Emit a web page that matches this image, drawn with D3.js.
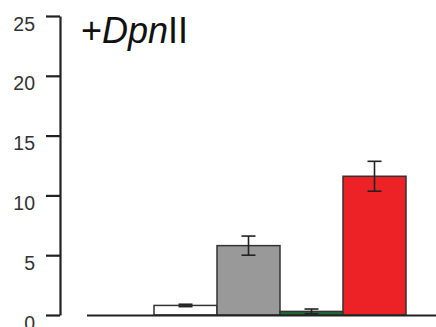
<!DOCTYPE html>
<html><head><meta charset="utf-8">
<script src="https://cdn.jsdelivr.net/npm/d3@7"></script>
<style>body{margin:0;background:#fff}svg{display:block}</style>
</head><body>
<svg id="c" width="436" height="327"></svg>
<script>
const categories = ["A","B","C","D"];
const values = [0.8, 5.8, 0.3, 11.6];
const errors = [0.1, 0.8, 0.2, 1.25];
const colors = ["#ffffff","#999999","#1e6b34","#ec2227"];
const yTicks = [0,5,10,15,20,25];

const svg = d3.select("#c");
const y = d3.scaleLinear().domain([0,25]).range([315,16]);
const x = d3.scaleBand().domain(categories).range([154,406]).padding(0);

// y axis
const ax = svg.append("g").attr("transform","translate(60,0)")
  .call(d3.axisLeft(y).tickValues(yTicks).tickSize(14).tickSizeOuter(0).tickPadding(11));
ax.select(".domain").attr("stroke","#222").attr("stroke-width",2.2);
ax.selectAll(".tick line").attr("stroke","#222").attr("stroke-width",2.2);
ax.selectAll(".tick text").attr("fill","#333").attr("dy","0.72em")
  .attr("font-family","Liberation Sans, Arial, sans-serif").attr("font-size",19.5);

// bars
svg.append("g").selectAll("rect").data(categories).join("rect")
  .attr("x", d=>x(d)).attr("width", x.bandwidth())
  .attr("y", (d,i)=>y(values[i])).attr("height",(d,i)=>y(0)-y(values[i]))
  .attr("fill",(d,i)=>colors[i]).attr("stroke","#333").attr("stroke-width",1.5);

// baseline
svg.append("line").attr("x1",87).attr("x2",436).attr("y1",y(0)+0.5).attr("y2",y(0)+0.5)
  .attr("stroke","#222").attr("stroke-width",2.2);

// error bars
const eg = svg.append("g").attr("stroke","#222").attr("stroke-width",1.6);
categories.forEach((d,i)=>{
  const cx = x(d)+x.bandwidth()/2;
  const t = y(values[i]+errors[i]), b = y(values[i]-errors[i]);
  eg.append("line").attr("x1",cx).attr("x2",cx).attr("y1",t).attr("y2",b);
  eg.append("line").attr("x1",cx-7).attr("x2",cx+7).attr("y1",t).attr("y2",t);
  eg.append("line").attr("x1",cx-7).attr("x2",cx+7).attr("y1",b).attr("y2",b);
});

// title
const tt = svg.append("text").attr("x",81).attr("y",43)
  .attr("font-family","Liberation Sans, Arial, sans-serif").attr("font-size",36).attr("fill","#111");
tt.append("tspan").text("+");
tt.append("tspan").attr("font-style","italic").text("Dpn");
tt.append("tspan").text("II");
</script>
</body></html>
